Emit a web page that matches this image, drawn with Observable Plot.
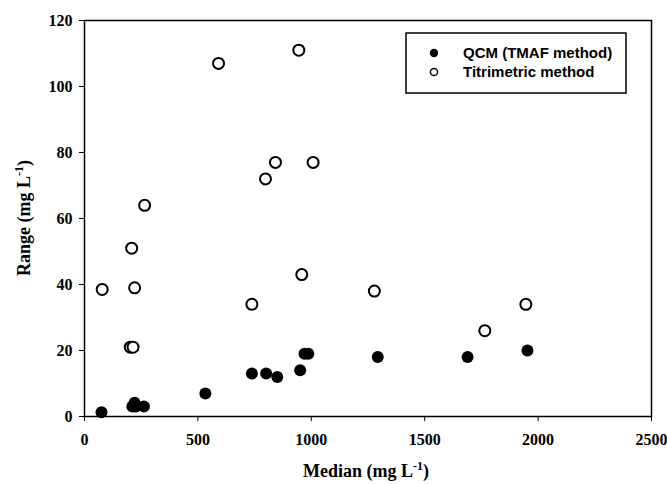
<!DOCTYPE html>
<html><head><meta charset="utf-8">
<script src="https://cdn.jsdelivr.net/npm/d3@7"></script>
<script src="https://cdn.jsdelivr.net/npm/@observablehq/plot@0.6"></script>
<style>body{margin:0;background:#fff}</style>
</head><body><div id="chart"></div>
<script>
const qcmMedian = [75, 211, 221, 226, 262, 533, 738, 801, 850, 951, 970, 987, 1293, 1689, 1953];
const qcmRange  = [1.3, 3, 4.2, 3, 3, 7, 13, 13, 12, 14, 19, 19, 18, 18, 20];
const titMedian = [78, 202, 214, 208, 221, 265, 591, 738, 798, 842, 945, 958, 1008, 1278, 1765, 1946];
const titRange  = [38.5, 21, 21, 51, 39, 64, 107, 34, 72, 77, 111, 43, 77, 38, 26, 34];
const xTicks = [0, 500, 1000, 1500, 2000, 2500];
const yTicks = [0, 20, 40, 60, 80, 100, 120];
const seriesNames = ["QCM (TMAF method)", "Titrimetric method"];
const xTitle = "Median (mg L";
const yTitle = "Range (mg L";
const unitSup = "-1";

const qcm = qcmMedian.map((x, i) => ({x, y: qcmRange[i]}));
const tit = titMedian.map((x, i) => ({x, y: titRange[i]}));

const W = 667, H = 484, mL = 84, mR = 16, mT = 20, mB = 68;
const plot = Plot.plot({
  width: W, height: H,
  marginLeft: mL, marginRight: mR, marginTop: mT, marginBottom: mB,
  style: {fontFamily: "'Liberation Serif', 'Times New Roman', serif", fontSize: "16px", fontWeight: "bold", background: "#fff", color: "#000"},
  x: {domain: [0, 2500], ticks: xTicks, label: null},
  y: {domain: [0, 120], ticks: yTicks, label: null},
  marks: [
    Plot.axisX({ticks: xTicks, tickSize: 5, tickPadding: 12, label: null, tickFormat: d => String(d)}),
    Plot.axisY({ticks: yTicks, tickSize: 5, tickPadding: 7, label: null, tickFormat: d => String(d)}),
    Plot.frame({stroke: "#000", strokeWidth: 1.5}),
    Plot.dot(tit, {x: "x", y: "y", r: 5.5, stroke: "#000", strokeWidth: 2, fill: "#fff"}),
    Plot.dot(qcm, {x: "x", y: "y", r: 6, fill: "#000", stroke: "none"})
  ]
});

const svg = d3.select(plot);
function addTitle(g, base) {
  g.append("tspan").text(base);
  g.append("tspan").attr("dy", -7).attr("font-size", 12).text(unitSup);
  g.append("tspan").attr("dy", 7).text(")");
}
const cx = 366;
const xt = svg.append("text").attr("x", cx).attr("y", 477).attr("text-anchor", "middle")
  .attr("font-family", "'Liberation Serif', serif").attr("font-size", 18).attr("font-weight", "bold");
addTitle(xt, xTitle);
const cy = mT + (H - mT - mB) / 2;
const yt = svg.append("text").attr("transform", `translate(30,${cy}) rotate(-90)`).attr("text-anchor", "middle")
  .attr("font-family", "'Liberation Serif', serif").attr("font-size", 18).attr("font-weight", "bold");
addTitle(yt, yTitle);

// legend
const lg = svg.append("g").attr("font-family", "'Liberation Sans', Arial, sans-serif").attr("font-size", 15).attr("font-weight", "bold").attr("text-anchor", "start");
lg.append("rect").attr("x", 406).attr("y", 33).attr("width", 220).attr("height", 60).attr("fill", "#fff").attr("stroke", "#000").attr("stroke-width", 1.5);
seriesNames.forEach((name, i) => {
  const yy = 53 + i * 19;
  lg.append("circle").attr("cx", 434).attr("cy", yy).attr("r", i === 0 ? 4.2 : 3.6)
    .attr("fill", i === 0 ? "#000" : "#fff").attr("stroke", "#000").attr("stroke-width", i === 0 ? 0 : 1.5);
  lg.append("text").attr("x", 463).attr("y", yy).attr("dy", "0.35em").attr("text-anchor", "start").text(name);
});

document.getElementById("chart").appendChild(plot);
</script>
</body></html>
